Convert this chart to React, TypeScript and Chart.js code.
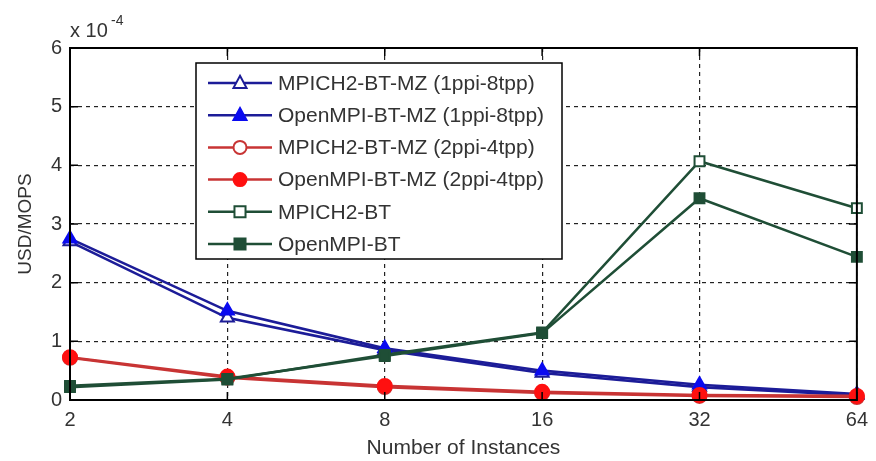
import React, { useEffect, useRef } from "react";
import { Chart, registerables } from "chart.js";

Chart.register(...registerables);

// x categories (number of instances)
const instances = ["2", "4", "8", "16", "32", "64"];
// y tick labels (in units of 10^-4 USD/MOPS)
const yTicks = [0, 1, 2, 3, 4, 5, 6];

// series values, in units of 10^-4 USD/MOPS
const mpichMz1 = [2.7, 1.4, 0.85, 0.46, 0.22, 0.08];
const openmpiMz1 = [2.75, 1.52, 0.88, 0.5, 0.26, 0.1];
const mpichMz2 = [0.72, 0.38, 0.22, 0.12, 0.07, 0.05];
const openmpiMz2 = [0.73, 0.4, 0.24, 0.14, 0.085, 0.07];
const mpichBt = [0.22, 0.35, 0.77, 1.15, 4.07, 3.27];
const openmpiBt = [0.24, 0.36, 0.75, 1.14, 3.44, 2.44];

const seriesNames = [
  "MPICH2-BT-MZ (1ppi-8tpp)",
  "OpenMPI-BT-MZ (1ppi-8tpp)",
  "MPICH2-BT-MZ (2ppi-4tpp)",
  "OpenMPI-BT-MZ (2ppi-4tpp)",
  "MPICH2-BT",
  "OpenMPI-BT",
];

const FONT = "'Liberation Sans', Arial, sans-serif";
const TEXT = "#333";
const BLUE_LINE = "#1c1c98";
const BLUE_MARK = "#0a0af0";
const RED_LINE = "#c83434";
const RED_MARK = "#ff1010";
const GREEN = "#1f4e36";

const styles = [
  { line: BLUE_LINE, mark: BLUE_LINE, shape: "triangle", filled: false },
  { line: BLUE_LINE, mark: BLUE_MARK, shape: "triangle", filled: true },
  { line: RED_LINE, mark: RED_LINE, shape: "circle", filled: false },
  { line: RED_LINE, mark: RED_MARK, shape: "circle", filled: true },
  { line: GREEN, mark: GREEN, shape: "rect", filled: false },
  { line: GREEN, mark: GREEN, shape: "rect", filled: true },
];

const allSeries = [mpichMz1, openmpiMz1, mpichMz2, openmpiMz2, mpichBt, openmpiBt];

function drawMarker(ctx: CanvasRenderingContext2D, shape: string, x: number, y: number, r: number, color: string, filled: boolean) {
  ctx.save();
  ctx.beginPath();
  if (shape === "triangle") {
    ctx.moveTo(x, y - r * 1.1);
    ctx.lineTo(x + r, y + r * 0.75);
    ctx.lineTo(x - r, y + r * 0.75);
    ctx.closePath();
  } else if (shape === "circle") {
    ctx.arc(x, y, r, 0, Math.PI * 2);
  } else {
    ctx.rect(x - r * 0.85, y - r * 0.85, r * 1.7, r * 1.7);
  }
  ctx.fillStyle = filled ? color : "#ffffff";
  ctx.fill();
  ctx.lineWidth = 2;
  ctx.strokeStyle = color;
  ctx.stroke();
  ctx.restore();
}

const framePlugin = {
  id: "matlabFrame",
  afterDraw(chart: any) {
    const { ctx, chartArea: a, scales } = chart;
    ctx.save();
    // frame
    ctx.strokeStyle = "#000";
    ctx.lineWidth = 2;
    ctx.setLineDash([]);
    ctx.strokeRect(a.left, a.top, a.right - a.left, a.bottom - a.top);
    // inward ticks
    ctx.lineWidth = 1.5;
    const tl = 8;
    const xs = scales.x;
    for (let i = 0; i < instances.length; i++) {
      const px = xs.getPixelForValue(i);
      ctx.beginPath();
      ctx.moveTo(px, a.bottom);
      ctx.lineTo(px, a.bottom - tl);
      ctx.moveTo(px, a.top);
      ctx.lineTo(px, a.top + tl);
      ctx.stroke();
    }
    const ys = scales.y;
    for (const v of yTicks) {
      const py = ys.getPixelForValue(v);
      ctx.beginPath();
      ctx.moveTo(a.left, py);
      ctx.lineTo(a.left + tl, py);
      ctx.moveTo(a.right, py);
      ctx.lineTo(a.right - tl, py);
      ctx.stroke();
    }
    // exponent label
    ctx.fillStyle = TEXT;
    ctx.textBaseline = "alphabetic";
    ctx.textAlign = "left";
    ctx.font = `20px ${FONT}`;
    ctx.fillText("x 10", a.left, a.top - 11);
    ctx.font = `14px ${FONT}`;
    ctx.fillText("-4", a.left + 41, a.top - 23);

    // legend box
    const bx = a.left + 126;
    const by = a.top + 15;
    const bw = 366;
    const bh = 196;
    ctx.fillStyle = "#ffffff";
    ctx.fillRect(bx, by, bw, bh);
    ctx.strokeStyle = "#000";
    ctx.lineWidth = 1.5;
    ctx.strokeRect(bx, by, bw, bh);
    const rowH = 32.2;
    for (let i = 0; i < seriesNames.length; i++) {
      const st = styles[i];
      const cy = by + 20 + i * rowH;
      const lx0 = bx + 12;
      const lx1 = bx + 76;
      ctx.strokeStyle = st.line;
      ctx.lineWidth = 2.5;
      ctx.beginPath();
      ctx.moveTo(lx0, cy);
      ctx.lineTo(lx1, cy);
      ctx.stroke();
      drawMarker(ctx, st.shape, (lx0 + lx1) / 2, cy, 6.5, st.mark, st.filled);
      ctx.fillStyle = TEXT;
      ctx.font = `21px ${FONT}`;
      ctx.textBaseline = "middle";
      ctx.fillText(seriesNames[i], bx + 82, cy + 1);
    }
    ctx.restore();
  },
};

export default function App() {
  const ref = useRef<HTMLCanvasElement | null>(null);
  useEffect(() => {
    document.body.style.margin = "0";
    const canvas = ref.current;
    if (!canvas) return;
    const datasets = allSeries.map((data, i) => ({
      label: seriesNames[i],
      data,
      order: allSeries.length - i,
      borderColor: styles[i].line,
      borderWidth: 2.6,
      pointStyle: styles[i].shape,
      pointRadius: styles[i].shape === "triangle" ? 7.5 : 7,
      pointBorderWidth: 2,
      pointBorderColor: styles[i].mark,
      pointBackgroundColor: styles[i].filled ? styles[i].mark : "#ffffff",
      fill: false,
      tension: 0,
      clip: false as any,
    }));
    const chart = new Chart(canvas, {
      type: "line",
      data: { labels: instances, datasets },
      options: {
        animation: false,
        responsive: true,
        maintainAspectRatio: false,
        layout: { padding: { top: 48, right: 14, left: 0, bottom: 0 } },
        plugins: {
          legend: { display: false },
          tooltip: { enabled: false },
          title: { display: false },
        },
        scales: {
          x: {
            type: "category",
            offset: false,
            grid: { color: "#222", lineWidth: 1.2, drawTicks: false },
            border: { display: false, dash: [4, 4] },
            ticks: {
              color: TEXT,
              padding: 8,
              font: { size: 20, family: FONT },
              maxRotation: 0,
            },
            title: {
              display: true,
              text: "Number of Instances",
              color: TEXT,
              font: { size: 21, family: FONT },
              padding: { top: 0, bottom: 0 },
            },
            afterFit: (s: any) => {
              s.height = 61;
            },
          },
          y: {
            type: "linear",
            min: 0,
            max: 6,
            afterBuildTicks: (s: any) => {
              s.ticks = yTicks.map((v) => ({ value: v }));
            },
            grid: { color: "#222", lineWidth: 1.2, drawTicks: false },
            border: { display: false, dash: [4, 4] },
            ticks: {
              color: TEXT,
              padding: 8,
              font: { size: 20, family: FONT },
            },
            title: {
              display: true,
              text: "USD/MOPS",
              color: TEXT,
              font: { size: 19, family: FONT },
              padding: { top: 14, bottom: 0 },
            },
            afterFit: (s: any) => {
              s.width = 70;
            },
          },
        },
      },
      plugins: [framePlugin],
    });
    return () => chart.destroy();
  }, []);
  return (
    <div style={{ position: "absolute", left: 0, top: 0, width: 876, height: 461, background: "#fff" }}>
      <canvas ref={ref} />
    </div>
  );
}
